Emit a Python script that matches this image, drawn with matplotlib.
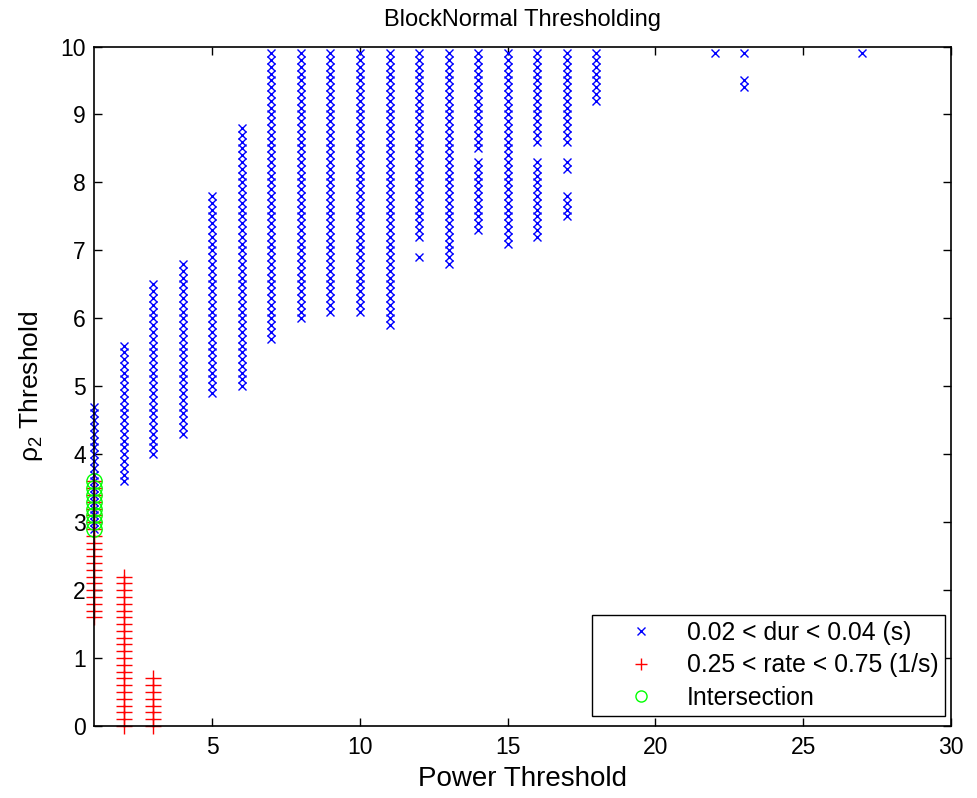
import numpy as np
import matplotlib
matplotlib.use("Agg")
import matplotlib.pyplot as plt

plt.rcParams['font.family'] = ['Liberation Sans', 'DejaVu Sans']
plt.rcParams['mathtext.fontset'] = 'custom'
plt.rcParams['mathtext.rm'] = 'Liberation Sans'

# duration criterion: (power threshold, low/high rho2 of each run), step 0.1
dur_x = [1, 2, 3, 4, 5, 6, 7, 8, 9, 10, 11, 12, 12, 13, 14, 14, 15, 16, 16,
         17, 17, 17, 18, 22, 23, 23, 27]
dur_lo = [2.9, 3.6, 4.0, 4.3, 4.9, 5.0, 5.7, 6.0, 6.1, 6.1, 5.9, 6.9, 7.2, 6.8, 7.3, 8.5, 7.1, 7.2, 8.6,
          7.5, 8.2, 8.6, 9.2, 9.9, 9.4, 9.9, 9.9]
dur_hi = [4.7, 5.6, 6.5, 6.8, 7.8, 8.8, 9.9, 9.9, 9.9, 9.9, 9.9, 6.9, 9.9, 9.9, 8.3, 9.9, 9.9, 8.3, 9.9,
          7.8, 8.3, 9.9, 9.9, 9.9, 9.5, 9.9, 9.9]

# rate criterion
rate_x = [1, 2, 3]
rate_lo = [1.6, 0.0, 0.0]
rate_hi = [3.6, 2.2, 0.7]


def expand(xs, lo, hi):
    px, py = [], []
    for x, a, b in zip(xs, lo, hi):
        n = int(round((b - a) / 0.1)) + 1
        for k in range(n):
            px.append(x)
            py.append(round(a + 0.1 * k, 1))
    return px, py


dx, dy = expand(dur_x, dur_lo, dur_hi)
rx, ry = expand(rate_x, rate_lo, rate_hi)
common = sorted(set(zip(dx, dy)) & set(zip(rx, ry)))
ix = [p[0] for p in common]
iy = [p[1] for p in common]

fig = plt.figure(figsize=(9.77, 7.98), dpi=100)
ax = fig.add_axes([0.0962, 0.0902, 0.8772, 0.8515])

ax.plot(dx, dy, 'x', color=(0, 0, 1), ms=5.5, mew=1.0, ls='none', clip_on=False,
        label='0.02 < dur < 0.04 (s)')
ax.plot(rx, ry, '+', color=(1, 0, 0), ms=11, mew=1.0, ls='none', clip_on=False,
        label='0.25 < rate < 0.75 (1/s)')
ax.plot(ix, iy, 'o', mfc='none', mec=(0, 1, 0), ms=11, mew=1.0, ls='none', clip_on=False,
        label='Intersection')

ax.set_xlim(1, 30)
ax.set_ylim(0, 10)
ax.set_xticks([5, 10, 15, 20, 25, 30])
ax.set_yticks(range(0, 11))
ax.tick_params(direction='in', top=True, right=True, labelsize=16.5, length=6, width=1)
ax.tick_params(axis='y', pad=6)
ax.tick_params(axis='x', pad=7)
for s in ax.spines.values():
    s.set_linewidth(1.2)

ax.set_title('BlockNormal Thresholding', fontsize=17, pad=15)
ax.set_xlabel('Power Threshold', fontsize=20, labelpad=5)
ax.set_ylabel('\u03c1$_2$ Threshold', fontsize=19, labelpad=11)

leg = ax.legend(loc='lower right', bbox_to_anchor=(0.993, 0.015), borderaxespad=0,
                fontsize=17.8, fancybox=False, framealpha=1, edgecolor='black',
                handlelength=3.5, handletextpad=0.1, borderpad=0.25, labelspacing=0.34)
leg.get_frame().set_linewidth(1.0)
for h, s in zip(leg.legend_handles, [5.5, 9, 8]):
    h.set_markersize(s)

fig.savefig('out.png', dpi=100)
